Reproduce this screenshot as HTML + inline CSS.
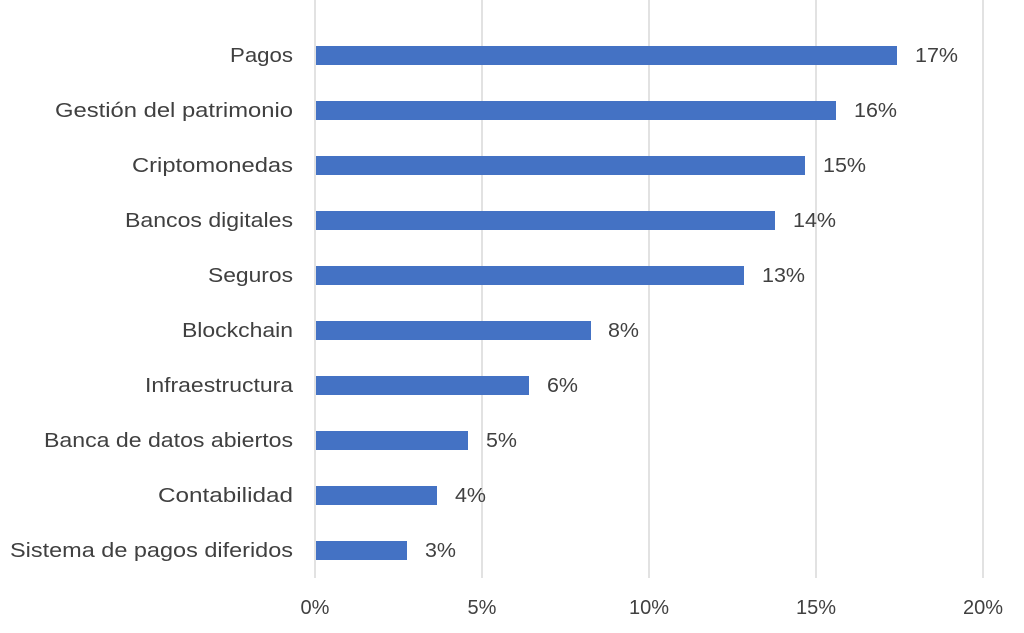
<!DOCTYPE html>
<html><head><meta charset="utf-8"><style>
body{margin:0;background:#fff;}
svg{display:block;font-family:"Liberation Sans",sans-serif;}
</style></head><body>
<svg width="1024" height="633" xmlns="http://www.w3.org/2000/svg">
<g stroke="#d9d9d9" stroke-width="1.5">
<line x1="315" y1="0" x2="315" y2="578"/>
<line x1="482" y1="0" x2="482" y2="578"/>
<line x1="649" y1="0" x2="649" y2="578"/>
<line x1="816" y1="0" x2="816" y2="578"/>
<line x1="983" y1="0" x2="983" y2="578"/>
</g>
<g fill="#4472c4">
<rect x="316" y="46" width="581" height="19"/>
<rect x="316" y="101" width="520" height="19"/>
<rect x="316" y="156" width="489" height="19"/>
<rect x="316" y="211" width="459" height="19"/>
<rect x="316" y="266" width="428" height="19"/>
<rect x="316" y="321" width="275" height="19"/>
<rect x="316" y="376" width="213" height="19"/>
<rect x="316" y="431" width="152" height="19"/>
<rect x="316" y="486" width="121" height="19"/>
<rect x="316" y="541" width="91" height="19"/>
</g>
<g fill="#404040" font-size="20" text-anchor="end" lengthAdjust="spacingAndGlyphs">
<text x="293" y="62" textLength="63" lengthAdjust="spacingAndGlyphs">Pagos</text>
<text x="293" y="117" textLength="238" lengthAdjust="spacingAndGlyphs">Gestión del patrimonio</text>
<text x="293" y="172" textLength="161" lengthAdjust="spacingAndGlyphs">Criptomonedas</text>
<text x="293" y="227" textLength="168" lengthAdjust="spacingAndGlyphs">Bancos digitales</text>
<text x="293" y="282" textLength="85" lengthAdjust="spacingAndGlyphs">Seguros</text>
<text x="293" y="337" textLength="111" lengthAdjust="spacingAndGlyphs">Blockchain</text>
<text x="293" y="392" textLength="148" lengthAdjust="spacingAndGlyphs">Infraestructura</text>
<text x="293" y="447" textLength="249" lengthAdjust="spacingAndGlyphs">Banca de datos abiertos</text>
<text x="293" y="502" textLength="135" lengthAdjust="spacingAndGlyphs">Contabilidad</text>
<text x="293" y="557" textLength="283" lengthAdjust="spacingAndGlyphs">Sistema de pagos diferidos</text>
</g>
<g fill="#404040" font-size="20">
<text x="915" y="62" textLength="43" lengthAdjust="spacingAndGlyphs">17%</text>
<text x="854" y="117" textLength="43" lengthAdjust="spacingAndGlyphs">16%</text>
<text x="823" y="172" textLength="43" lengthAdjust="spacingAndGlyphs">15%</text>
<text x="793" y="227" textLength="43" lengthAdjust="spacingAndGlyphs">14%</text>
<text x="762" y="282" textLength="43" lengthAdjust="spacingAndGlyphs">13%</text>
<text x="608" y="337" textLength="31" lengthAdjust="spacingAndGlyphs">8%</text>
<text x="547" y="392" textLength="31" lengthAdjust="spacingAndGlyphs">6%</text>
<text x="486" y="447" textLength="31" lengthAdjust="spacingAndGlyphs">5%</text>
<text x="455" y="502" textLength="31" lengthAdjust="spacingAndGlyphs">4%</text>
<text x="425" y="557" textLength="31" lengthAdjust="spacingAndGlyphs">3%</text>
</g>
<g fill="#404040" font-size="20" text-anchor="middle">
<text x="315" y="614">0%</text>
<text x="482" y="614">5%</text>
<text x="649" y="614">10%</text>
<text x="816" y="614">15%</text>
<text x="983" y="614">20%</text>
</g>
</svg>
</body></html>
